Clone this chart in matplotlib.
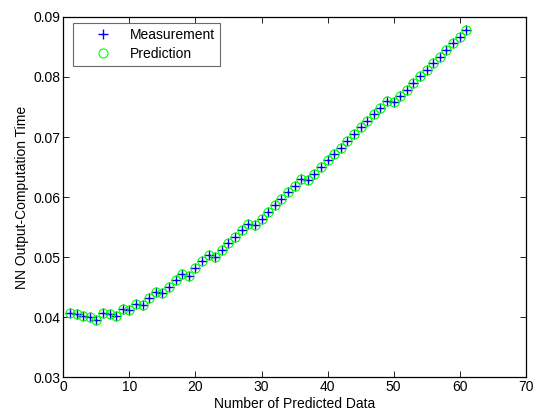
import numpy as np
import matplotlib
matplotlib.use("Agg")
import matplotlib.pyplot as plt

plt.rcParams['font.family'] = ['Liberation Sans', 'DejaVu Sans']

# data
idx = np.arange(1, 62)
measured = [0.0407, 0.0405, 0.0402, 0.0400, 0.0396, 0.0407, 0.0405, 0.0403, 0.0414, 0.0412,
            0.0423, 0.0421, 0.0432, 0.0442, 0.0440, 0.0451, 0.0462, 0.0472, 0.0469, 0.0482,
            0.0493, 0.0503, 0.0500, 0.0512, 0.0523, 0.0534, 0.0545, 0.0556, 0.0553, 0.0564,
            0.0575, 0.0587, 0.0597, 0.0608, 0.0619, 0.0630, 0.0629, 0.0639, 0.0650, 0.0662,
            0.0672, 0.0682, 0.0694, 0.0705, 0.0716, 0.0727, 0.0739, 0.0749, 0.0760, 0.0758,
            0.0769, 0.0779, 0.0790, 0.0801, 0.0812, 0.0823, 0.0834, 0.0845, 0.0856, 0.0867,
            0.0878]
predicted = list(measured)

fig = plt.figure(figsize=(5.37, 4.15), dpi=100)
ax = fig.add_axes([0.118, 0.0904, 0.861, 0.869])

ax.plot(idx, measured, 'b+', markersize=6.5, markeredgewidth=1.0, label='Measurement')
ax.plot(idx, predicted, 'o', markerfacecolor='none', markeredgecolor='#00ff00',
        markersize=6.5, markeredgewidth=0.8, label='Prediction')

ax.set_xlim(0, 70); ax.set_ylim(0.03, 0.09)
ax.set_xticks(np.arange(0, 71, 10))
ax.set_yticks([0.03, 0.04, 0.05, 0.06, 0.07, 0.08, 0.09])
ax.set_yticklabels(['0.03', '0.04', '0.05', '0.06', '0.07', '0.08', '0.09'])
ax.tick_params(direction='in', top=True, right=True, length=4, width=0.6,
               labelsize=10, pad=2)
for s in ax.spines.values():
    s.set_linewidth(0.9)

ax.set_xlabel('Number of Predicted Data', fontsize=10, labelpad=2)
ax.set_ylabel('NN Output-Computation Time', fontsize=10, labelpad=3)

leg = ax.legend(loc='upper left', bbox_to_anchor=(0.021, 0.983), borderaxespad=0,
                fontsize=10, fancybox=False, edgecolor='#444444',
                handletextpad=0.15, handlelength=3.6, labelspacing=0.35,
                borderpad=0.35)
leg.get_frame().set_linewidth(0.8)

fig.savefig('out.png', dpi=100)
